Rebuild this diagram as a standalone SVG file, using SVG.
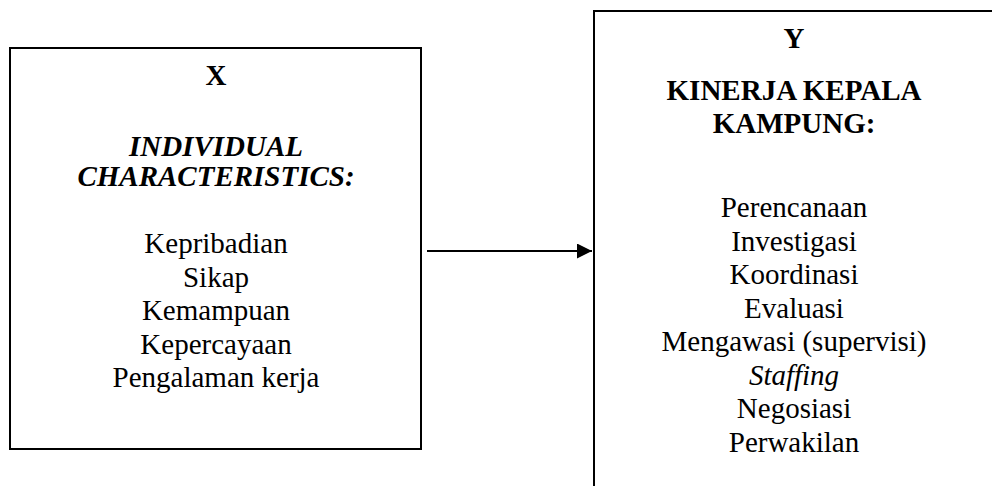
<svg xmlns="http://www.w3.org/2000/svg" width="992" height="486" viewBox="0 0 992 486">
<style>
.box{fill:#fff;stroke:#000;stroke-width:2}
text{font-family:"Liberation Serif","Times New Roman",serif;font-size:29px;fill:#000;text-anchor:middle}
.b{font-weight:bold}
.i{font-style:italic}
.conn{stroke:#000;stroke-width:2;fill:none}
</style>
<defs>
<marker id="ah" markerWidth="15" markerHeight="15" refX="15" refY="7.5" orient="auto" markerUnits="userSpaceOnUse">
<path d="M0,0 L15,7.5 L0,15 Z" fill="#000"/>
</marker>
</defs>
<rect width="992" height="486" fill="#fff"/>
<g id="nodeX">
<rect class="box" x="10" y="48" width="411" height="401"/>
<text class="b" x="216" y="85">X</text>
<text class="b i" x="216" y="156">INDIVIDUAL</text>
<text class="b i" x="216" y="186">CHARACTERISTICS:</text>
<text x="216" y="253">Kepribadian</text>
<text x="216" y="286.5">Sikap</text>
<text x="216" y="320">Kemampuan</text>
<text x="216" y="353.5">Kepercayaan</text>
<text x="216" y="387">Pengalaman kerja</text>
</g>
<g id="nodeY">
<rect class="box" x="594" y="11" width="402" height="490"/>
<text class="b" x="794" y="48">Y</text>
<text class="b" x="794" y="100">KINERJA KEPALA</text>
<text class="b" x="794" y="133">KAMPUNG:</text>
<text x="794" y="217">Perencanaan</text>
<text x="794" y="251">Investigasi</text>
<text x="794" y="284">Koordinasi</text>
<text x="794" y="318">Evaluasi</text>
<text x="794" y="351">Mengawasi (supervisi)</text>
<text class="i" x="794" y="385">Staffing</text>
<text x="794" y="418">Negosiasi</text>
<text x="794" y="452">Perwakilan</text>
</g>
<g id="connectors">
<line class="conn" x1="427" y1="251" x2="592" y2="251" marker-end="url(#ah)"/>
</g>
</svg>
